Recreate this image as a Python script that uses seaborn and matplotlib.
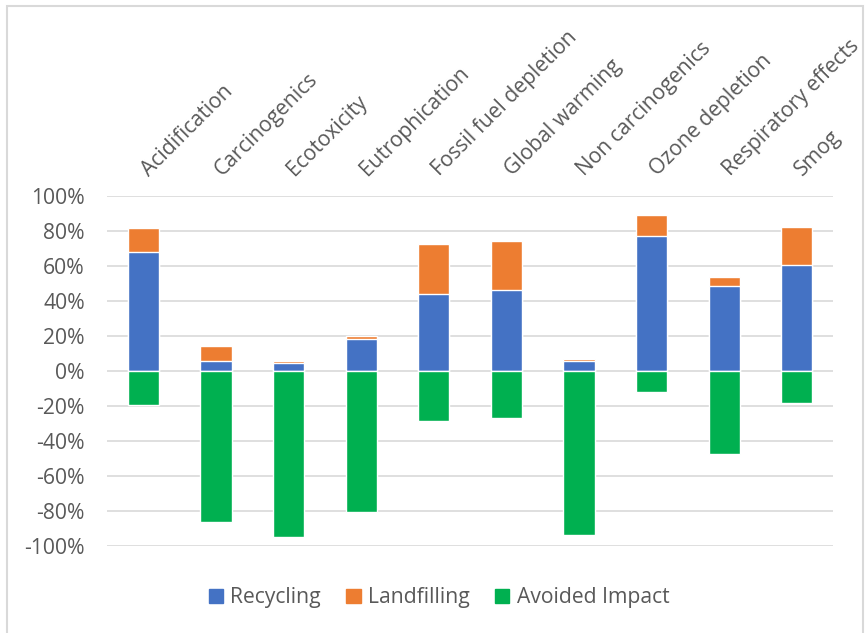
import matplotlib
matplotlib.use("Agg")
import matplotlib.pyplot as plt
from matplotlib.patches import Patch, Rectangle
from matplotlib.ticker import FuncFormatter
from matplotlib.transforms import ScaledTranslation
import numpy as np
import seaborn as sns

categories = ["Acidification", "Carcinogenics", "Ecotoxicity", "Eutrophication",
              "Fossil fuel depletion", "Global warming", "Non carcinogenics",
              "Ozone depletion", "Respiratory effects", "Smog"]
recycling = [68.1, 5.9, 4.4, 18.1, 43.9, 46.3, 5.5, 77.1, 48.6, 60.3]
landfilling = [13.4, 8.2, 1.3, 1.9, 28.6, 28.1, 1.4, 11.8, 5.0, 22.1]
avoided = [-19.4, -86.6, -95.1, -81.0, -28.4, -26.7, -94.0, -12.2, -47.5, -18.3]

C_REC = "#4472C4"
C_LAND = "#ED7D31"
C_AVOID = "#00B050"
TXT = "#595959"
FS = 15.2

sns.set_style("white")
plt.rcParams["font.family"] = ["Open Sans", "DejaVu Sans"]

fig = plt.figure(figsize=(8.68, 6.33), dpi=100)
ax = fig.add_axes([0.1233, 0.1379, 0.8364, 0.5525])

rec = np.array(recycling) / 100
land = np.array(landfilling) / 100
avd = np.array(avoided) / 100

# stacked: draw total first, recycling on top of it
sns.barplot(x=categories, y=rec + land, color=C_LAND, saturation=1, width=0.43,
            order=categories, ax=ax, zorder=2)
sns.barplot(x=categories, y=rec, color=C_REC, saturation=1, width=0.43,
            order=categories, ax=ax, zorder=3)
sns.barplot(x=categories, y=avd, color=C_AVOID, saturation=1, width=0.43,
            order=categories, ax=ax, zorder=3)

ax.set_ylim(-1, 1)
ax.set_xlim(-0.5, len(categories) - 0.5)
ax.set_yticks(np.arange(-1, 1.01, 0.2))
ax.yaxis.set_major_formatter(FuncFormatter(lambda v, p: "%d%%" % int(round(v * 100))))
ax.grid(axis="y", color="#d9d9d9", lw=1.2, zorder=0)
ax.set_axisbelow(True)
for s in ax.spines.values():
    s.set_visible(False)

ax.xaxis.tick_top()
ax.set_xticks(range(len(categories)))
ax.set_xticklabels(categories, rotation=45, ha="left", va="baseline",
                   rotation_mode="anchor")
ax.tick_params(axis="x", length=0, pad=14, labelsize=FS, labelcolor=TXT)
ax.tick_params(axis="y", length=0, pad=16, labelsize=FS, labelcolor=TXT)
ax.set_xlabel("")
ax.set_ylabel("")
shift = ScaledTranslation(6 / 100, 0, fig.dpi_scale_trans)
for lab in ax.get_xticklabels():
    lab.set_transform(lab.get_transform() + shift)

handles = [Patch(color=C_REC, label="Recycling"),
           Patch(color=C_LAND, label="Landfilling"),
           Patch(color=C_AVOID, label="Avoided Impact")]
fig.legend(handles=handles, loc="center", bbox_to_anchor=(0.5058, 0.0553), ncol=3,
           frameon=False, handlelength=0.68, handleheight=0.68, handletextpad=0.35,
           columnspacing=1.2, labelcolor=TXT, prop={"size": FS})

# chart border
fig.patches.append(Rectangle((6.5 / 868, -0.05), (863 - 6.5) / 868, 1.05 - 5.5 / 633,
                             transform=fig.transFigure, fill=False,
                             edgecolor="#d9d9d9", lw=1.5, clip_on=False))

fig.savefig("out.png", dpi=100)
